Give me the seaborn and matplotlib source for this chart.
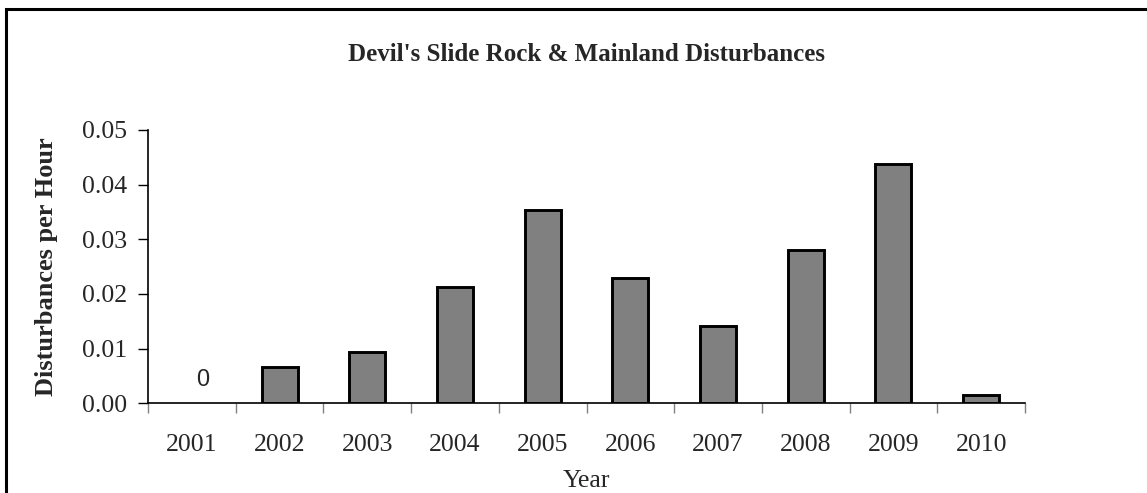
import numpy as np
import pandas as pd
import matplotlib
matplotlib.use("Agg")
import matplotlib.pyplot as plt
from matplotlib.patches import Rectangle
from matplotlib.ticker import FormatStrFormatter
import seaborn as sns

years = ["2001", "2002", "2003", "2004", "2005", "2006", "2007", "2008", "2009", "2010"]
rates = [0.0, 0.0066, 0.0094, 0.0213, 0.0353, 0.0230, 0.0141, 0.0280, 0.0437, 0.0015]
y_ticks = [0.00, 0.01, 0.02, 0.03, 0.04, 0.05]

sns.set_style("white")
plt.rcParams["font.family"] = ["Liberation Serif", "DejaVu Serif"]

df = pd.DataFrame({"Year": years, "Rate": rates})

fig = plt.figure(figsize=(11.47, 4.93), dpi=100)
ax = fig.add_axes([148 / 1147, 1 - 403.3 / 493, (1025 - 148) / 1147, (403.3 - 130) / 493])

sns.barplot(data=df, x="Year", y="Rate", ax=ax, color="#808080", saturation=1,
            width=0.41, edgecolor="black", linewidth=2.1)

# a zero-height bar shows no outline
for patch in ax.patches:
    if patch.get_height() == 0:
        patch.set_linewidth(0)

ax.set_xlim(-0.5, len(years) - 0.5)
ax.set_ylim(y_ticks[0], y_ticks[-1])
ax.set_yticks(y_ticks)
ax.yaxis.set_major_formatter(FormatStrFormatter("%.2f"))

# category boundaries carry the tick marks, centres carry the labels
ax.set_xticks(np.arange(-0.5, len(years), 1.0))
ax.set_xticklabels([])
ax.set_xticks(np.arange(len(years)), minor=True)
ax.set_xticklabels(years, minor=True)
ax.tick_params(axis="x", which="major", direction="out", length=7, width=1, color="#808080", bottom=True)
ax.tick_params(axis="x", which="minor", length=0, pad=22, labelsize=18.5)
ax.tick_params(axis="y", direction="out", length=7, width=1, color="black", left=True, labelsize=18.5, pad=8)

for side in ("top", "right"):
    ax.spines[side].set_visible(False)
for side in ("left", "bottom"):
    ax.spines[side].set_color("black")
    ax.spines[side].set_linewidth(1.2)

ax.set_xlabel("Year", fontsize=18.5, labelpad=10)
ax.set_ylabel("Disturbances per Hour", fontsize=19, fontweight="bold", labelpad=17)
ax.set_title("Devil's Slide Rock & Mainland Disturbances", fontsize=18, fontweight="bold", pad=50)

# value label for the empty year
ax.annotate(f"{rates[0]:g}", xy=(0, rates[0]), xytext=(8, 17), textcoords="offset points",
            ha="center", va="center", fontsize=17, family=["Liberation Sans", "DejaVu Sans"])

# chart-area border
fig.patches.append(Rectangle((6 / 1147, -0.1), 1.2, 1.1 - 9 / 493, transform=fig.transFigure,
                             fill=False, edgecolor="black", linewidth=2.2, zorder=10))

fig.savefig("out.png", dpi=100)
